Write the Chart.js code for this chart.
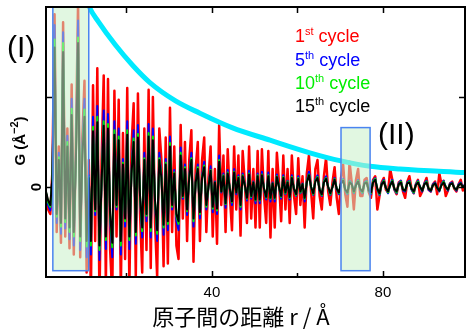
<!DOCTYPE html>
<html>
<head>
<meta charset="utf-8">
<script src="https://cdn.jsdelivr.net/npm/chart.js@4/dist/chart.umd.min.js"></script>
<style>
html, body { margin: 0; padding: 0; background: #fff; }
</style>
</head>
<body>
<canvas id="grafico" width="467" height="333"></canvas>
<script>
// grade de r (Å): começa em 1.2, passo de 0.5
const rInicio = 1.2;
const rPasso = 0.5;

// G(r) - 15th cycle (preto)
const g15 = [
-0.05,-0.15,-0.2,0.1,1.55,-0.3,0.3,-0.4,1.5,-0.35,
0.45,-0.45,0.8,-0.5,0.3,1.6,-0.55,0.35,0.78,-0.6,
0.1,-0.6,0.62,-0.25,0.72,-0.65,0.05,0.68,-0.55,0.65,
-0.3,-0.62,0.58,-0.2,0.52,-0.6,0.25,-0.35,0.58,-0.55,
0.15,0.5,-0.5,0.55,-0.1,-0.45,0.3,-0.3,0.56,-0.45,
0.52,-0.15,-0.48,0.3,0.1,-0.42,0.25,-0.38,0.45,-0.2,
0.15,-0.3,-0.38,0.35,-0.1,0.2,-0.25,0.1,0.3,-0.35,
0.05,0.2,-0.28,0.1,0.22,-0.2,0.0,0.18,-0.22,0.05,
-0.24,0.28,-0.05,0.12,-0.18,0.15,-0.02,-0.16,0.16,-0.06,
0.1,-0.2,0.12,0.02,-0.12,0.14,-0.1,0.05,-0.14,0.12,
-0.14,0.13,-0.02,-0.11,0.12,-0.12,0.04,-0.12,0.11,0.0,
-0.1,0.1,-0.06,0.05,-0.11,0.1,-0.02,-0.08,0.09,-0.05,
0.03,-0.12,0.05,0.13,0.0,-0.07,0.06,0.1,-0.03,-0.08,
0.05,0.09,0.0,-0.07,0.0,0.08,-0.02,-0.06,0.04,0.07,
-0.03,-0.06,0.05,0.03,-0.05,0.02,0.06,-0.02,-0.05,0.04,
0.05,-0.04,-0.06,0.05,0.08,-0.02,-0.07,0.03,0.06,-0.01,
-0.05,0.02,0.06,-0.02,-0.05,0.03,0.05,-0.03,-0.04,0.04,
0.05,-0.02,-0.05,0.02,0.05,0.0,-0.04,0.03,0.05,-0.02,
-0.04,0.02,0.04,-0.01,-0.04,0.02,0.05,0.0,-0.03,0.03,
0.04,-0.01,-0.03,0.02,0.04,0.0,0.02
];

// 10th cycle (verde)
const g10 = [
-0.06,-0.17,-0.22,0.11,1.64,-0.33,0.33,-0.44,1.6,-0.39,
0.5,-0.5,0.87,-0.55,0.33,1.66,-0.6,0.39,0.86,-0.66,
0.11,-0.65,0.67,-0.27,0.78,-0.7,0.05,0.73,-0.59,0.7,
-0.32,-0.67,0.63,-0.22,0.56,-0.65,0.27,-0.38,0.63,-0.59,
0.16,0.54,-0.54,0.59,-0.11,-0.49,0.32,-0.32,0.6,-0.49,
0.56,-0.16,-0.52,0.32,0.11,-0.45,0.27,-0.41,0.49,-0.22,
0.16,-0.32,-0.41,0.38,-0.11,0.22,-0.27,0.11,0.32,-0.38,
0.05,0.22,-0.3,0.11,0.24,-0.22,0.0,0.19,-0.24,0.05,
-0.26,0.3,-0.05,0.13,-0.19,0.16,-0.02,-0.17,0.17,-0.06,
0.11,-0.22,0.13,0.02,-0.13,0.15,-0.11,0.05,-0.15,0.13,
-0.15,0.14,-0.02,-0.12,0.13,-0.13,0.04,-0.13,0.12,0.0,
-0.11,0.11,-0.07,0.06,-0.12,0.11,-0.02,-0.09,0.1,-0.06,
0.03,-0.13,0.06,0.14,0.0,-0.08,0.07,0.11,-0.03,-0.09,
0.06,0.1,0.0,-0.08,0.0,0.09,-0.02,-0.07,0.04,0.08,
-0.03,-0.07,0.06,0.03,-0.06,0.02,0.07,-0.02,-0.06,0.04,
0.06,-0.04,-0.07,0.06,0.09,-0.02,-0.08,0.03,0.07,-0.01,
-0.06,0.02,0.07,-0.02,-0.06,0.03,0.06,-0.03,-0.04,0.04,
0.06,-0.02,-0.06,0.02,0.06,0.0,-0.04,0.03,0.06,-0.02,
-0.04,0.02,0.04,-0.01,-0.04,0.02,0.06,0.0,-0.03,0.03,
0.04,-0.01,-0.03,0.02,0.04,0.0,0.02
];

// 5th cycle (azul)
const g5 = [
-0.07,-0.2,-0.26,0.13,1.8,-0.4,0.38,-0.52,1.72,-0.46,
0.57,-0.58,0.98,-0.65,0.38,1.85,-0.7,0.45,0.98,-0.78,
0.13,-0.75,0.78,-0.31,0.9,-0.81,0.06,0.85,-0.69,0.81,
-0.38,-0.78,0.73,-0.25,0.65,-0.75,0.31,-0.44,0.73,-0.69,
0.19,0.63,-0.63,0.69,-0.13,-0.56,0.38,-0.38,0.7,-0.56,
0.65,-0.19,-0.6,0.38,0.13,-0.53,0.31,-0.48,0.56,-0.25,
0.19,-0.38,-0.48,0.44,-0.13,0.25,-0.31,0.13,0.38,-0.44,
0.06,0.25,-0.35,0.13,0.28,-0.25,0.0,0.23,-0.28,0.06,
-0.3,0.35,-0.06,0.15,-0.23,0.19,-0.03,-0.2,0.2,-0.08,
0.13,-0.25,0.15,0.03,-0.15,0.18,-0.13,0.06,-0.18,0.15,
-0.18,0.17,-0.03,-0.14,0.16,-0.16,0.05,-0.16,0.14,0.0,
-0.13,0.13,-0.08,0.07,-0.14,0.13,-0.03,-0.1,0.12,-0.07,
0.04,-0.16,0.07,0.17,0.0,-0.09,0.08,0.13,-0.04,-0.1,
0.07,0.12,0.0,-0.09,0.0,0.1,-0.03,-0.08,0.05,0.09,
-0.04,-0.08,0.07,0.04,-0.07,0.03,0.08,-0.03,-0.07,0.05,
0.07,-0.05,-0.08,0.07,0.1,-0.03,-0.09,0.04,0.08,-0.01,
-0.07,0.03,0.08,-0.03,-0.07,0.04,0.07,-0.04,-0.05,0.05,
0.07,-0.03,-0.07,0.03,0.07,0.0,-0.05,0.04,0.07,-0.03,
-0.05,0.03,0.05,-0.01,-0.05,0.03,0.07,0.0,-0.04,0.04,
0.05,-0.01,-0.04,0.03,0.05,0.0,0.03
];

// 1st cycle (vermelho)
const g1 = [
-0.08,-0.25,-0.3,0.18,1.92,-0.5,0.45,-0.62,1.83,-0.55,
0.65,-0.68,1.14,-0.75,0.5,2.05,-0.78,0.55,1.18,-0.95,
0.3,-1.2,1.13,-0.6,1.32,-1.25,0.3,1.24,-1.1,1.2,
-0.7,-1.2,1.07,-0.55,0.97,-1.15,0.6,-0.8,1.1,-1.1,
0.45,0.93,-1.0,1.04,-0.3,-0.95,0.65,-0.7,1.08,-0.9,
1.0,-0.4,-1.0,0.65,0.3,-0.88,0.55,-0.85,0.88,-0.5,
0.45,-0.65,-0.8,0.69,-0.35,0.5,-0.6,0.3,0.63,-0.83,
0.2,0.5,-0.6,0.3,0.55,-0.5,0.1,0.45,-0.55,0.2,
-0.63,0.69,-0.2,0.35,-0.5,0.42,-0.1,-0.48,0.45,-0.25,
0.35,-0.54,0.4,0.05,-0.4,0.45,-0.35,0.2,-0.45,0.4,
-0.45,0.42,-0.1,-0.4,0.4,-0.56,0.2,-0.45,0.38,0.05,
-0.38,0.35,-0.25,0.2,-0.4,0.35,-0.1,-0.3,0.32,-0.2,
0.12,-0.45,0.15,0.35,-0.05,-0.35,0.2,0.3,-0.1,-0.25,
0.12,0.32,-0.05,-0.2,0.05,0.22,-0.12,-0.3,0.1,0.25,
-0.08,-0.22,0.28,0.05,-0.25,0.08,0.2,-0.1,-0.1,0.08,
0.1,-0.06,-0.12,0.08,0.12,-0.25,-0.1,0.05,0.1,-0.03,
-0.06,0.2,0.08,-0.03,-0.08,0.05,0.07,-0.05,-0.12,0.06,
0.12,-0.02,-0.07,0.03,0.08,-0.1,-0.05,0.04,0.1,-0.03,
-0.05,0.03,0.06,-0.08,0.15,0.03,0.07,-0.1,-0.04,0.04,
0.06,-0.02,-0.05,0.03,0.08,-0.04,0.03
];

// envelope (curva ciano)
const envR = [10.3, 11.3, 13.4, 17.4, 21.5, 25.5, 31.4, 37.2, 44.7, 53.6, 62.9, 70.2, 77.0, 84.0, 99.2];
const envG = [2.13, 2.0, 1.84, 1.58, 1.35, 1.16, 0.96, 0.82, 0.66, 0.52, 0.38, 0.29, 0.23, 0.2, 0.16];

// eixos
const xTicks = [20, 40, 60, 80];
const xRotulos = [40, 80];
const yTicks = [0, 1];

// regiões (I) e (II): [r0, r1, G0, G1]
const regiaoI = [2.8, 11.2, -0.93, 2.1];
const regiaoII = [70.2, 77.0, -0.93, 0.66];

const pontos = serie => serie.map((v, i) => ({ x: rInicio + i * rPasso, y: v }));

// -------- desenho extra: caixas, moldura, textos --------
const extras = {
  id: "extras",
  afterDatasetsDraw(chart) {
    const ctx = chart.ctx;
    const sx = chart.scales.x, sy = chart.scales.y;
    const a = chart.chartArea;

    ctx.save();
    ctx.beginPath();
    ctx.rect(a.left, a.top, a.right - a.left, a.bottom - a.top);
    ctx.clip();
    [regiaoI, regiaoII].forEach(reg => {
      const x0 = sx.getPixelForValue(reg[0]);
      const x1 = sx.getPixelForValue(reg[1]);
      const y0 = sy.getPixelForValue(reg[3]);
      const y1 = sy.getPixelForValue(reg[2]);
      ctx.fillStyle = "rgba(200,240,200,0.55)";
      ctx.fillRect(x0, y0, x1 - x0, y1 - y0);
      ctx.strokeStyle = "#4a84f0";
      ctx.lineWidth = 1.5;
      ctx.strokeRect(x0, y0, x1 - x0, y1 - y0);
    });
    ctx.restore();

    // moldura
    ctx.save();
    ctx.strokeStyle = "#000";
    ctx.lineWidth = 2;
    ctx.strokeRect(a.left, a.top, a.right - a.left, a.bottom - a.top);

    // ticks para dentro
    ctx.lineWidth = 1.5;
    ctx.beginPath();
    xTicks.forEach(v => {
      const px = Math.round(sx.getPixelForValue(v)) + 0.5;
      const len = xRotulos.includes(v) ? 6 : 4;
      ctx.moveTo(px, a.bottom); ctx.lineTo(px, a.bottom - len);
      ctx.moveTo(px, a.top); ctx.lineTo(px, a.top + 6);
    });
    yTicks.forEach(v => {
      const py = Math.round(sy.getPixelForValue(v)) + 0.5;
      ctx.moveTo(a.left, py); ctx.lineTo(a.left + 6, py);
      ctx.moveTo(a.right, py); ctx.lineTo(a.right - 6, py);
    });
    ctx.stroke();
    ctx.restore();
  },
  afterDraw(chart) {
    const ctx = chart.ctx;
    const sy = chart.scales.y;
    ctx.save();
    ctx.fillStyle = "#000";

    // rótulo 0 (girado)
    ctx.save();
    ctx.translate(37, sy.getPixelForValue(0));
    ctx.rotate(-Math.PI / 2);
    ctx.font = "bold 15px Arial";
    ctx.textAlign = "center";
    ctx.textBaseline = "middle";
    ctx.fillText("0", 0, 0);
    ctx.restore();

    // título eixo y: G (Å-2) com expoente
    ctx.save();
    ctx.translate(25, 141);
    ctx.rotate(-Math.PI / 2);
    ctx.textBaseline = "alphabetic";
    ctx.textAlign = "left";
    const p1 = "G (Å", p2 = "−2", p3 = ")";
    ctx.font = "bold 15px Arial";
    const w1 = ctx.measureText(p1).width, w3 = ctx.measureText(p3).width;
    ctx.font = "bold 11px Arial";
    const w2 = ctx.measureText(p2).width;
    let x = -(w1 + w2 + w3) / 2;
    ctx.font = "bold 15px Arial";
    ctx.fillText(p1, x, 0);
    x += w1;
    ctx.font = "bold 11px Arial";
    ctx.fillText(p2, x, -7);
    x += w2;
    ctx.font = "bold 15px Arial";
    ctx.fillText(p3, x, 0);
    ctx.restore();

    // título eixo x
    ctx.font = '22px "Noto Sans CJK JP"';
    ctx.textAlign = "center";
    ctx.textBaseline = "middle";
    ctx.fillText("原子間の距離 r / Å", 241, 317);

    // (I) e (II)
    ctx.font = "30px Arial";
    ctx.textAlign = "left";
    ctx.textBaseline = "alphabetic";
    ctx.fillText("(I)", 7, 57);
    ctx.fillText("(II)", 378, 144);

    // legenda
    const legendas = [
      ["1", "st", "#ff0000", 42],
      ["5", "th", "#0000ff", 66],
      ["10", "th", "#00ee00", 89],
      ["15", "th", "#000000", 112]
    ];
    legendas.forEach(l => {
      let xl = 295;
      ctx.fillStyle = l[2];
      ctx.font = "18px Arial";
      ctx.fillText(l[0], xl, l[3]);
      xl += ctx.measureText(l[0]).width;
      ctx.font = "11px Arial";
      ctx.fillText(l[1], xl, l[3] - 7);
      xl += ctx.measureText(l[1]).width;
      ctx.font = "18px Arial";
      ctx.fillText(" cycle", xl, l[3]);
    });
    ctx.restore();
  }
};

const estiloLinha = { showLine: true, pointRadius: 0, borderJoinStyle: "round", borderCapStyle: "round" };

new Chart(document.getElementById("grafico"), {
  type: "scatter",
  data: {
    datasets: [
      { ...estiloLinha, label: "envelope", data: envR.map((r, i) => ({ x: r, y: envG[i] })),
        borderColor: "#00eaff", borderWidth: 5, cubicInterpolationMode: "monotone", order: 0 },
      { ...estiloLinha, label: "15th cycle", data: pontos(g15), borderColor: "#000000", borderWidth: 2, order: 1 },
      { ...estiloLinha, label: "10th cycle", data: pontos(g10), borderColor: "#00ee00", borderWidth: 2, order: 2 },
      { ...estiloLinha, label: "5th cycle", data: pontos(g5), borderColor: "#0000ff", borderWidth: 2, order: 3 },
      { ...estiloLinha, label: "1st cycle", data: pontos(g1), borderColor: "#ff0000", borderWidth: 2.5, order: 4 }
    ]
  },
  options: {
    responsive: false,
    animation: false,
    layout: { padding: { left: 0, top: 7, right: 2, bottom: 0 } },
    plugins: {
      legend: { display: false },
      tooltip: { enabled: false }
    },
    scales: {
      x: {
        type: "linear",
        min: 1.2,
        max: 99.2,
        afterBuildTicks: s => { s.ticks = xTicks.map(v => ({ value: v })); },
        afterFit: s => { s.height = 56; },
        grid: { display: false, drawTicks: false },
        border: { display: false },
        ticks: {
          padding: 7,
          color: "#000",
          font: { family: "Arial", size: 15 },
          maxRotation: 0,
          callback: v => xRotulos.includes(v) ? String(v) : ""
        }
      },
      y: {
        min: -1,
        max: 2,
        afterBuildTicks: s => { s.ticks = yTicks.map(v => ({ value: v })); },
        afterFit: s => { s.width = 46; },
        grid: { display: false, drawTicks: false },
        border: { display: false },
        ticks: { display: false }
      }
    }
  },
  plugins: [extras]
});
</script>
</body>
</html>
